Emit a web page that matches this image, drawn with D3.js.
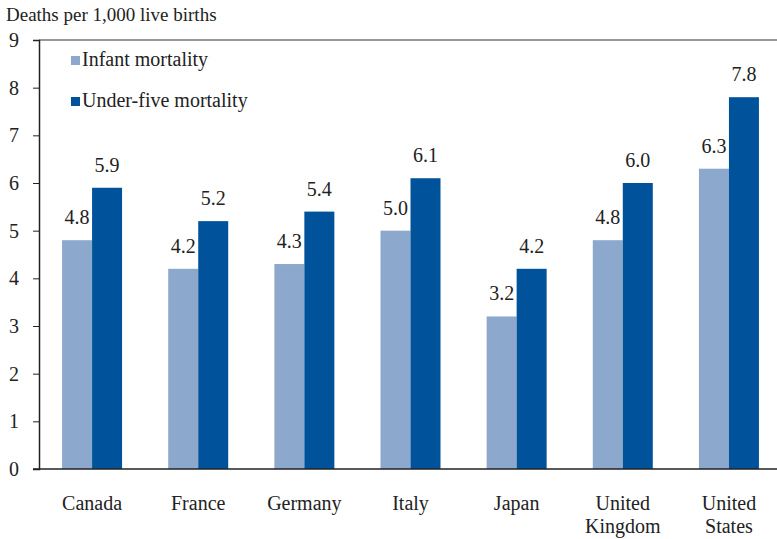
<!DOCTYPE html>
<html>
<head>
<meta charset="utf-8">
<script src="https://cdn.jsdelivr.net/npm/d3@7"></script>
<style>
	body { margin: 0; background: #fff; }
	text { font-family: 'Liberation Serif', 'Times New Roman', serif; fill: #222; }
</style>
</head>
<body>
<script>
// data
var countries = [['Canada'], ['France'], ['Germany'], ['Italy'], ['Japan'], ['United', 'Kingdom'], ['United', 'States']];
var infant = [4.8, 4.2, 4.3, 5.0, 3.2, 4.8, 6.3];
var underFive = [5.9, 5.2, 5.4, 6.1, 4.2, 6.0, 7.8];
var yTicks = [0, 1, 2, 3, 4, 5, 6, 7, 8, 9];
var seriesNames = ['Infant mortality', 'Under-five mortality'];

var width = 777, height = 539;
var colorInfant = '#8da8cd',
	colorUnder = '#00539a';

var svg = d3.select('body').append('svg')
	.attr('width', width)
	.attr('height', height);

var x = d3.scaleBand()
	.domain(d3.range(countries.length))
	.range([39, 782])
	.padding(0);

var y = d3.scaleLinear()
	.domain([0, 9])
	.range([469, 40]);

var barW = 30;

// y title
svg.append('text')
	.attr('x', 6)
	.attr('y', 21)
	.style('font-size', '19px')
	.text('Deaths per 1,000 live births');

// top line at 9
svg.append('line')
	.attr('x1', 39).attr('x2', width)
	.attr('y1', y(9)).attr('y2', y(9))
	.attr('stroke', '#333').attr('stroke-width', 1.2);

// bars
var groups = svg.selectAll('.country')
	.data(countries)
	.enter().append('g')
	.attr('class', 'country');

groups.append('rect')
	.attr('x', function(d, i) { return x(i) + x.bandwidth() / 2 - barW; })
	.attr('y', function(d, i) { return y(infant[i]); })
	.attr('width', barW)
	.attr('height', function(d, i) { return y(0) - y(infant[i]); })
	.attr('fill', colorInfant);

groups.append('rect')
	.attr('x', function(d, i) { return x(i) + x.bandwidth() / 2; })
	.attr('y', function(d, i) { return y(underFive[i]); })
	.attr('width', barW)
	.attr('height', function(d, i) { return y(0) - y(underFive[i]); })
	.attr('fill', colorUnder);

// value labels
groups.append('text')
	.attr('x', function(d, i) { return x(i) + x.bandwidth() / 2 - barW / 2; })
	.attr('y', function(d, i) { return y(infant[i]) - 16; })
	.attr('text-anchor', 'middle')
	.style('font-size', '20px')
	.text(function(d, i) { return infant[i].toFixed(1); });

groups.append('text')
	.attr('x', function(d, i) { return x(i) + x.bandwidth() / 2 + barW / 2; })
	.attr('y', function(d, i) { return y(underFive[i]) - 16; })
	.attr('text-anchor', 'middle')
	.style('font-size', '20px')
	.text(function(d, i) { return underFive[i].toFixed(1); });

// category labels
groups.append('text')
	.attr('text-anchor', 'middle')
	.style('font-size', '20px')
	.selectAll('tspan')
	.data(function(d, i) { return d.map(function(t) { return {t: t, i: i}; }); })
	.enter().append('tspan')
	.attr('x', function(d) { return x(d.i) + x.bandwidth() / 2; })
	.attr('y', function(d, j) { return 510 + j * 23; })
	.text(function(d) { return d.t; });

// y axis
var yAxis = svg.append('g')
	.attr('transform', 'translate(39,0)')
	.call(d3.axisLeft(y).tickValues(yTicks).tickSize(6).tickPadding(14).tickFormat(d3.format('d')));
yAxis.select('.domain').attr('stroke', '#222').attr('stroke-width', 1.5);
yAxis.selectAll('.tick line').attr('stroke', '#222');
yAxis.selectAll('.tick text')
	.style('font-size', '20px')
	.style('font-family', "'Liberation Serif', serif")
	.attr('fill', '#222');

// x baseline
svg.append('line')
	.attr('x1', 33).attr('x2', width)
	.attr('y1', y(0)).attr('y2', y(0))
	.attr('stroke', '#222').attr('stroke-width', 1.5);

// legend
var legend = svg.selectAll('.legend')
	.data(seriesNames)
	.enter().append('g')
	.attr('class', 'legend')
	.attr('transform', function(d, i) { return 'translate(71,' + (56 + i * 41) + ')'; });

legend.append('rect')
	.attr('width', 9).attr('height', 9)
	.attr('fill', function(d, i) { return i === 0 ? colorInfant : colorUnder; });

legend.append('text')
	.attr('x', 11)
	.attr('y', 9.5)
	.style('font-size', '20px')
	.text(function(d) { return d; });
</script>
</body>
</html>
